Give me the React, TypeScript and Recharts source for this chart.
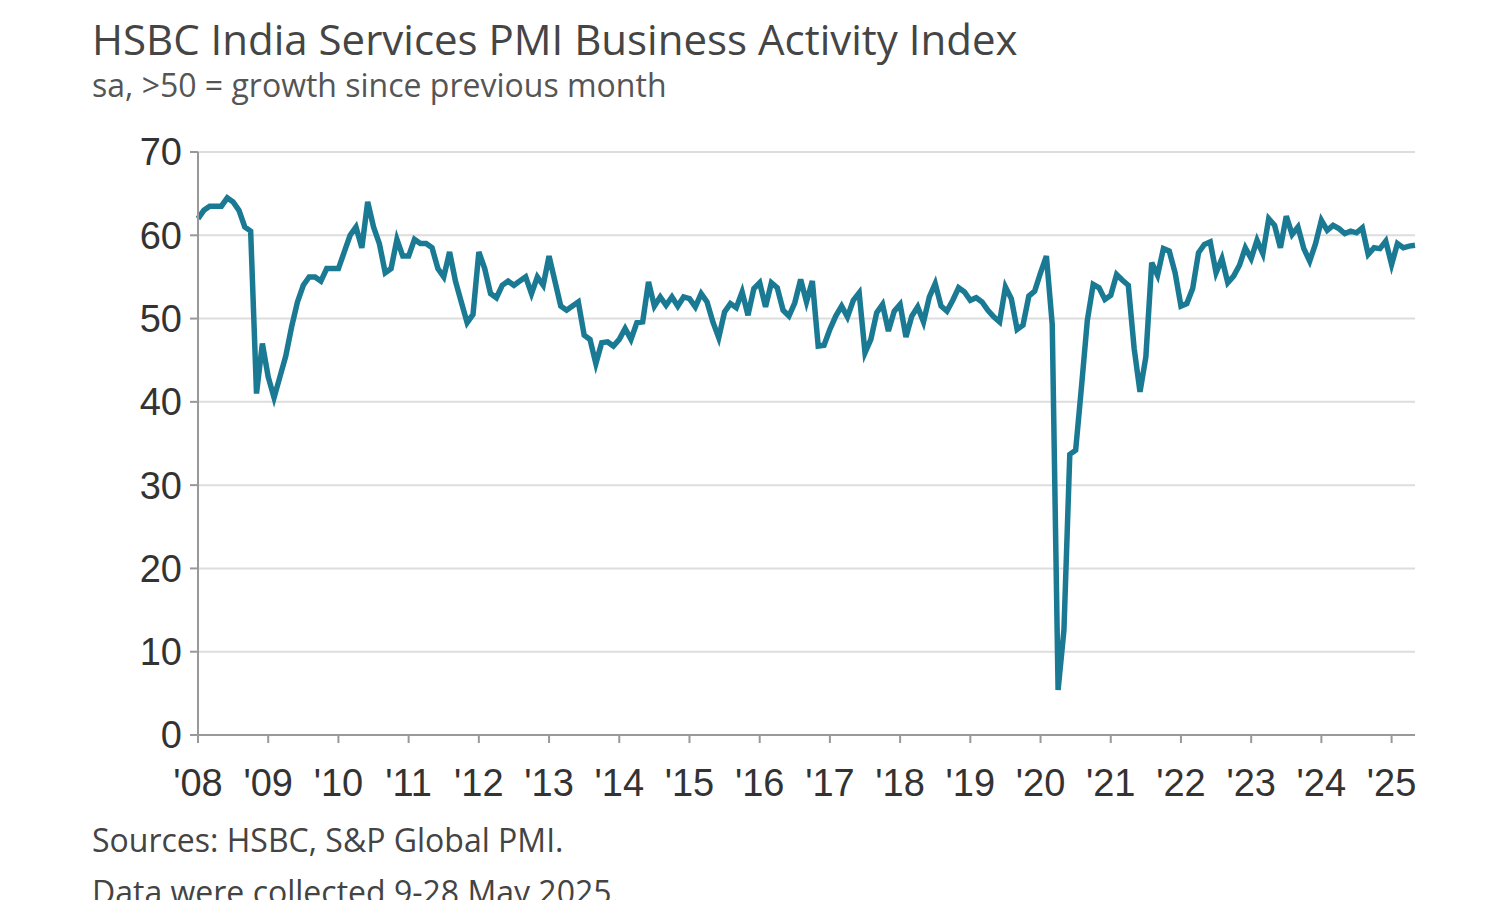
import { LineChart, Line, XAxis, YAxis, CartesianGrid } from "recharts";

// Monthly readings, Jan 2008 – May 2025
const y2008 = [62, 63, 63.5, 63.5, 63.5, 64.5, 64, 63, 61, 60.5, 41, 47];
const y2009 = [43, 40.5, 43, 45.5, 49, 52, 54, 55, 55, 54.5, 56, 56];
const y2010 = [56, 58, 60, 61, 58.5, 64, 61, 59, 55.5, 56, 59.5, 57.5];
const y2011 = [57.5, 59.5, 59, 59, 58.5, 56, 55, 58, 54.5, 52, 49.5, 50.5];
const y2012 = [58, 56, 53, 52.5, 54, 54.5, 54, 54.5, 55, 53, 55, 54];
const y2013 = [57.5, 54.5, 51.5, 51, 51.5, 52, 48, 47.5, 44.6, 47.1, 47.2, 46.7];
const y2014 = [47.5, 48.8, 47.5, 49.5, 49.6, 54.4, 51.5, 52.6, 51.6, 52.6, 51.5, 52.6];
const y2015 = [52.4, 51.4, 53, 52, 49.6, 47.7, 50.8, 51.8, 51.3, 53.2, 50.4, 53.6];
const y2016 = [54.3, 51.4, 54.3, 53.7, 51, 50.3, 51.9, 54.7, 52, 54.5, 46.7, 46.8];
const y2017 = [48.7, 50.3, 51.5, 50.2, 52.2, 53.1, 45.9, 47.5, 50.7, 51.7, 48.5, 50.9];
const y2018 = [51.7, 47.8, 50.3, 51.4, 49.6, 52.6, 54.2, 51.5, 50.9, 52.2, 53.7, 53.2];
const y2019 = [52.2, 52.5, 52, 51, 50.2, 49.6, 53.8, 52.4, 48.7, 49.2, 52.7, 53.3];
const y2020 = [55.5, 57.5, 49.3, 5.4, 12.6, 33.7, 34.2, 41.8, 49.8, 54.1, 53.7, 52.3];
const y2021 = [52.8, 55.3, 54.6, 54, 46.4, 41.2, 45.4, 56.7, 55.2, 58.4, 58.1, 55.5];
const y2022 = [51.5, 51.8, 53.6, 57.9, 58.9, 59.2, 55.5, 57.2, 54.3, 55.1, 56.4, 58.5];
const y2023 = [57.2, 59.4, 57.8, 62, 61.2, 58.5, 62.3, 60.1, 61, 58.4, 56.9, 59];
const y2024 = [61.8, 60.6, 61.2, 60.8, 60.2, 60.5, 60.3, 60.9, 57.7, 58.5, 58.4, 59.3];
const y2025 = [56.5, 59, 58.5, 58.7, 58.8];

const pmiValues = [
  ...y2008, ...y2009, ...y2010, ...y2011, ...y2012, ...y2013, ...y2014, ...y2015, ...y2016,
  ...y2017, ...y2018, ...y2019, ...y2020, ...y2021, ...y2022, ...y2023, ...y2024, ...y2025,
];

const yearLabels = ["'08", "'09", "'10", "'11", "'12", "'13", "'14", "'15", "'16", "'17", "'18", "'19", "'20", "'21", "'22", "'23", "'24", "'25"];
const yTicks = [0, 10, 20, 30, 40, 50, 60, 70];

const data = pmiValues.map((v, i) => ({ m: i, pmi: v }));
const xTicks = yearLabels.map((_, i) => i * 12);

const tickFont = { fontSize: 38, fill: "#333", fontFamily: "Liberation Sans, Arial, sans-serif" };

export default function App() {
  return (
    <div style={{ position: "absolute", top: 0, left: 0, width: 1500, height: 900, background: "#fff", overflow: "hidden", fontFamily: "Open Sans, sans-serif" }}>
      <div style={{ position: "absolute", left: 92, top: 14, fontSize: 42, lineHeight: "50px", color: "#454545", whiteSpace: "nowrap" }}>
        HSBC India Services PMI Business Activity Index
      </div>
      <div style={{ position: "absolute", left: 92, top: 66, fontSize: 32, lineHeight: "38px", color: "#555", whiteSpace: "nowrap" }}>
        sa, &gt;50 = growth since previous month
      </div>
      <div style={{ position: "absolute", top: 0, left: 0 }}>
        <LineChart width={1500} height={810} data={data} margin={{ top: 152, right: 85, left: 138, bottom: 0 }}>
          <CartesianGrid vertical={false} stroke="#ddd" strokeWidth={2} />
          <XAxis
            dataKey="m"
            type="number"
            domain={[0, pmiValues.length - 1]}
            ticks={xTicks}
            tickFormatter={(v: number) => yearLabels[v / 12]}
            interval={0}
            height={75}
            tick={tickFont}
            tickSize={8}
            tickMargin={26}
            stroke="#999"
            strokeWidth={2}
          />
          <YAxis
            domain={[0, 70]}
            ticks={yTicks}
            width={60}
            tick={tickFont}
            tickSize={8}
            tickMargin={8}
            stroke="#999"
            strokeWidth={2}
          />
          <Line
            dataKey="pmi"
            type="linear"
            stroke="#1b7a93"
            strokeWidth={5.5}
            dot={false}
            isAnimationActive={false}
          />
        </LineChart>
      </div>
      <div style={{ position: "absolute", left: 92, top: 820, fontSize: 32, lineHeight: "40px", color: "#444", whiteSpace: "nowrap" }}>
        Sources: HSBC, S&amp;P Global PMI.
      </div>
      <div style={{ position: "absolute", left: 92, top: 872, fontSize: 32, lineHeight: "40px", color: "#444", whiteSpace: "nowrap" }}>
        Data were collected 9-28 May 2025.
      </div>
    </div>
  );
}
